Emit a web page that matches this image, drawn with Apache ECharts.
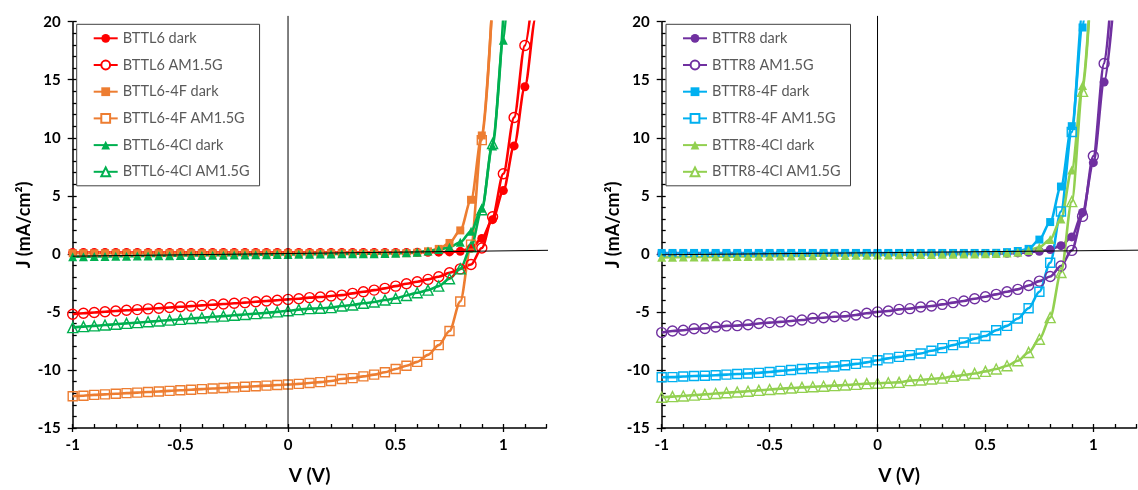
<!DOCTYPE html>
<html><head><meta charset="utf-8">
<script src="https://cdn.jsdelivr.net/npm/echarts@6/dist/echarts.min.js"></script>
<style>html,body{margin:0;padding:0;background:#fff}#c{width:1138px;height:490px}</style>
</head><body><div id="c"></div>
<script>
// Voltage grid (V), step 0.05 from -1
const V = [-1,-0.95,-0.9,-0.85,-0.8,-0.75,-0.7,-0.65,-0.6,-0.55,-0.5,-0.45,-0.4,-0.35,-0.3,-0.25,-0.2,-0.15,-0.1,-0.05,
  0,0.05,0.1,0.15,0.2,0.25,0.3,0.35,0.4,0.45,0.5,0.55,0.6,0.65,0.7,0.75,0.8,0.85,0.9,0.95,1.0,1.05,1.1,1.15,1.2];
const xTicks = [-1,-0.5,0,0.5,1];
const yTicks = [-15,-10,-5,0,5,10,15,20];

// Left panel (mA/cm2)
const BTTL6_dark = [0.12,0.12,0.12,0.12,0.12,0.12,0.12,0.12,0.12,0.12,0.12,0.12,0.12,0.12,0.12,0.12,0.12,0.12,0.12,0.12,
  0.12,0.12,0.12,0.12,0.12,0.12,0.12,0.12,0.12,0.12,0.12,0.12,0.13,0.14,0.15,0.17,0.22,0.48,1.33,2.95,5.45,9.3,14.4,20.3,27];
const BTTL6_AM = [-5.2,-5.12,-5.05,-4.98,-4.92,-4.86,-4.8,-4.74,-4.68,-4.62,-4.56,-4.5,-4.44,-4.38,-4.32,-4.26,-4.2,-4.13,-4.06,-3.99,
  -3.92,-3.86,-3.77,-3.72,-3.63,-3.55,-3.4,-3.26,-3.12,-2.97,-2.78,-2.57,-2.4,-2.2,-1.97,-1.63,-1.29,-0.92,0.5,3.2,6.9,11.75,17.95,25];
const BTTL64F_dark = [0.05,0.05,0.05,0.05,0.05,0.05,0.05,0.05,0.05,0.05,0.05,0.05,0.05,0.05,0.05,0.05,0.05,0.05,0.05,0.05,
  0.05,0.05,0.05,0.05,0.05,0.05,0.05,0.05,0.05,0.05,0.05,0.06,0.1,0.22,0.43,0.94,2.02,4.66,10.2,22];
const BTTL64F_AM = [-12.26,-12.22,-12.15,-12.1,-12.05,-12.0,-11.95,-11.9,-11.85,-11.8,-11.75,-11.7,-11.65,-11.6,-11.55,-11.5,-11.45,-11.4,-11.35,-11.3,
  -11.25,-11.2,-11.12,-11.05,-10.95,-10.78,-10.7,-10.55,-10.4,-10.2,-9.92,-9.64,-9.3,-8.7,-7.86,-6.64,-4.1,0.8,9.8,22];
const BTTL64Cl_dark = [-0.25,-0.24,-0.23,-0.22,-0.21,-0.2,-0.19,-0.18,-0.17,-0.16,-0.15,-0.14,-0.13,-0.12,-0.11,-0.1,-0.09,-0.08,-0.07,-0.06,
  -0.05,-0.04,-0.03,-0.02,-0.01,0,0,0.01,0.02,0.04,0.06,0.1,0.15,0.25,0.37,0.57,1.0,1.94,3.94,9.3,18.4,34];
const BTTL64Cl_AM = [-6.35,-6.27,-6.2,-6.13,-6.06,-5.99,-5.92,-5.85,-5.78,-5.71,-5.64,-5.57,-5.5,-5.43,-5.36,-5.29,-5.22,-5.15,-5.08,-5.0,
  -4.9,-4.8,-4.72,-4.69,-4.63,-4.49,-4.4,-4.26,-4.15,-3.98,-3.83,-3.58,-3.35,-3.12,-2.78,-2.14,-1.29,0.6,3.8,9.5,20.5];

// Right panel (mA/cm2)
const BTTR8_dark = [0.03,0.03,0.03,0.03,0.03,0.03,0.03,0.03,0.03,0.03,0.03,0.03,0.03,0.03,0.03,0.03,0.03,0.03,0.03,0.03,
  0.03,0.03,0.03,0.03,0.03,0.03,0.03,0.03,0.03,0.03,0.03,0.04,0.05,0.08,0.14,0.22,0.37,0.71,1.46,3.57,7.86,14.8,23];
const BTTR8_AM = [-6.78,-6.64,-6.58,-6.45,-6.43,-6.3,-6.2,-6.18,-6.1,-6.0,-5.92,-5.86,-5.78,-5.7,-5.55,-5.5,-5.42,-5.38,-5.26,-5.12,
  -5.0,-4.92,-4.78,-4.72,-4.58,-4.49,-4.35,-4.2,-4.06,-3.86,-3.69,-3.49,-3.26,-3.06,-2.72,-2.35,-1.95,-1.05,0.3,3.23,8.43,16.4,27];
const BTTR84F_dark = [0.08,0.08,0.08,0.08,0.08,0.08,0.08,0.08,0.08,0.08,0.08,0.08,0.08,0.08,0.08,0.08,0.08,0.08,0.08,0.08,
  0.08,0.08,0.08,0.08,0.08,0.08,0.08,0.08,0.08,0.08,0.08,0.09,0.15,0.25,0.43,1.23,2.74,5.8,11.0,19.5,33];
const BTTR84F_AM = [-10.63,-10.62,-10.57,-10.52,-10.5,-10.45,-10.4,-10.35,-10.3,-10.25,-10.17,-10.08,-10.0,-9.92,-9.85,-9.78,-9.7,-9.6,-9.48,-9.35,
  -9.17,-9.0,-8.87,-8.72,-8.58,-8.35,-8.12,-7.86,-7.63,-7.3,-7.07,-6.58,-6.2,-5.57,-4.69,-3.26,-0.77,3.65,10.5,20.8,34];
const BTTR84Cl_dark = [-0.3,-0.29,-0.28,-0.27,-0.26,-0.25,-0.24,-0.23,-0.22,-0.21,-0.2,-0.19,-0.18,-0.17,-0.16,-0.15,-0.14,-0.13,-0.12,-0.11,
  -0.1,-0.09,-0.08,-0.07,-0.06,-0.05,-0.04,-0.03,-0.02,-0.01,0,0.03,0.08,0.15,0.3,0.57,1.23,3.0,7.23,14.5,27];
const BTTR84Cl_AM = [-12.35,-12.3,-12.24,-12.17,-12.1,-12.03,-11.96,-11.9,-11.83,-11.76,-11.68,-11.62,-11.56,-11.5,-11.45,-11.4,-11.35,-11.3,-11.24,-11.18,
  -11.15,-11.1,-11.07,-10.92,-10.86,-10.78,-10.7,-10.55,-10.44,-10.3,-10.12,-9.92,-9.64,-9.21,-8.49,-7.35,-5.49,-1.6,4.5,14.0,27];

// reference lines [V, J]
const zeroLineL = [[-1,-0.2],[1.263,0.32]];
const zeroLineR = [[-1,-0.08],[1.211,0.32]];
const vLine = [[0,-15],[0,20.5]];

const RED='#FF0000', ORG='#ED7D31', GRN='#00B050', PUR='#7030A0', CYA='#00B0F0', LGR='#92D050';

function pts(arr){ return arr.map((j,i)=>[V[i], j]); }

function curve(name, arr, color, symbol, open, axis){
  const size = symbol==='rect' ? 8 : 9;
  return {
    name, type:'line', data: pts(arr), xAxisIndex: axis, yAxisIndex: axis,
    smooth: 0.3, smoothMonotone: 'x', clip: true,
    symbol, symbolSize: open ? size + 1 : size,
    showAllSymbol: true,
    lineStyle: {color, width: 2.6},
    itemStyle: open ? {color: 'rgba(255,255,255,0)', borderColor: color, borderWidth: 1.4} : {color},
    emphasis: {disabled: true}, silent: true, z: 2
  };
}
function refLine(data, axis){
  return {type:'line', data, xAxisIndex: axis, yAxisIndex: axis, clip:false, symbol:'none',
    lineStyle:{color:'#000', width:1}, silent:true, z:5, emphasis:{disabled:true}};
}

const font = 'Lato, "Open Sans", sans-serif';
function mainX(grid){
  return {gridIndex: grid, type:'value', min:-1, max:1.2, interval:0.5, position:'bottom',
    axisLine:{show:true, onZero:false, lineStyle:{color:'#000', width:1.5}},
    axisTick:{show:true, inside:false, length:4, lineStyle:{color:'#000', width:1.3}},
    axisLabel:{show:true, showMaxLabel:false, margin:10, color:'#000', fontWeight:'bold', fontSize:15, fontFamily:font},
    splitLine:{show:false},
    name:'V (V)', nameLocation:'middle', nameGap:38,
    nameTextStyle:{color:'#000', fontWeight:'bold', fontSize:19, fontFamily:font}};
}
function dupX(grid){
  return {gridIndex: grid, type:'value', min:-1, max:1.2, interval:0.1, position:'bottom',
    axisLine:{show:false, onZero:false}, axisTick:{show:true, inside:true, length:4, lineStyle:{color:'#000', width:1.3}},
    axisLabel:{show:false}, splitLine:{show:false}};
}
function mainY(grid){
  return {gridIndex: grid, type:'value', min:-15, max:20, interval:5, position:'left',
    axisLine:{show:true, onZero:false, lineStyle:{color:'#000', width:1.5}},
    axisTick:{show:true, inside:false, length:5, lineStyle:{color:'#000', width:1.3}},
    axisLabel:{show:true, margin:12, color:'#000', fontWeight:'bold', fontSize:15, fontFamily:font},
    splitLine:{show:false},
    name:'J (mA/cm²)', nameLocation:'middle', nameGap:40,
    nameTextStyle:{color:'#000', fontWeight:'bold', fontSize:18, fontFamily:font}};
}
function dupY(grid){
  return {gridIndex: grid, type:'value', min:-15, max:20, interval:1, position:'left',
    axisLine:{show:false, onZero:false}, axisTick:{show:true, inside:true, length:4, lineStyle:{color:'#000', width:1.3}},
    axisLabel:{show:false}, splitLine:{show:false}};
}
function legend(left, names){
  return {left, top:24.3, orient:'vertical', itemGap:11.7, itemWidth:24, itemHeight:11,
    padding:[6.5,10,6.5,16], borderColor:'#404040', borderWidth:1, backgroundColor:'#fff',
    selectedMode:false, textStyle:{color:'#595959', fontSize:14.5, lineHeight:15, fontFamily:font},
    data: names.map((n,i)=> i%2 ? {name:n, itemStyle:{color:'#fff'}} : {name:n})};
}

const namesL = ['BTTL6 dark','BTTL6 AM1.5G','BTTL6-4F dark','BTTL6-4F AM1.5G','BTTL6-4Cl dark','BTTL6-4Cl AM1.5G'];
const namesR = ['BTTR8 dark','BTTR8 AM1.5G','BTTR8-4F dark','BTTR8-4F AM1.5G','BTTR8-4Cl dark','BTTR8-4Cl AM1.5G'];

const chart = echarts.init(document.getElementById('c'), null, {renderer:'canvas'});
chart.setOption({
  animation:false,
  backgroundColor:'#fff',
  grid:[{left:72.7, top:21.7, width:473.7, height:407.3},{left:661.7, top:21.7, width:474.8, height:407.3}],
  xAxis:[mainX(0), dupX(0), mainX(1), dupX(1)],
  yAxis:[mainY(0), dupY(0), mainY(1), dupY(1)],
  legend:[legend(76.7, namesL), legend(666, namesR)],
  series:[
    refLine(vLine,0), refLine(zeroLineL,0),
    curve(namesL[0], BTTL6_dark, RED, 'circle', false, 0),
    curve(namesL[1], BTTL6_AM, RED, 'circle', true, 0),
    curve(namesL[2], BTTL64F_dark, ORG, 'rect', false, 0),
    curve(namesL[3], BTTL64F_AM, ORG, 'rect', true, 0),
    curve(namesL[4], BTTL64Cl_dark, GRN, 'triangle', false, 0),
    curve(namesL[5], BTTL64Cl_AM, GRN, 'triangle', true, 0),
    refLine(vLine,2), refLine(zeroLineR,2),
    curve(namesR[0], BTTR8_dark, PUR, 'circle', false, 2),
    curve(namesR[1], BTTR8_AM, PUR, 'circle', true, 2),
    curve(namesR[2], BTTR84F_dark, CYA, 'rect', false, 2),
    curve(namesR[3], BTTR84F_AM, CYA, 'rect', true, 2),
    curve(namesR[4], BTTR84Cl_dark, LGR, 'triangle', false, 2),
    curve(namesR[5], BTTR84Cl_AM, LGR, 'triangle', true, 2)
  ]
});
</script></body></html>
